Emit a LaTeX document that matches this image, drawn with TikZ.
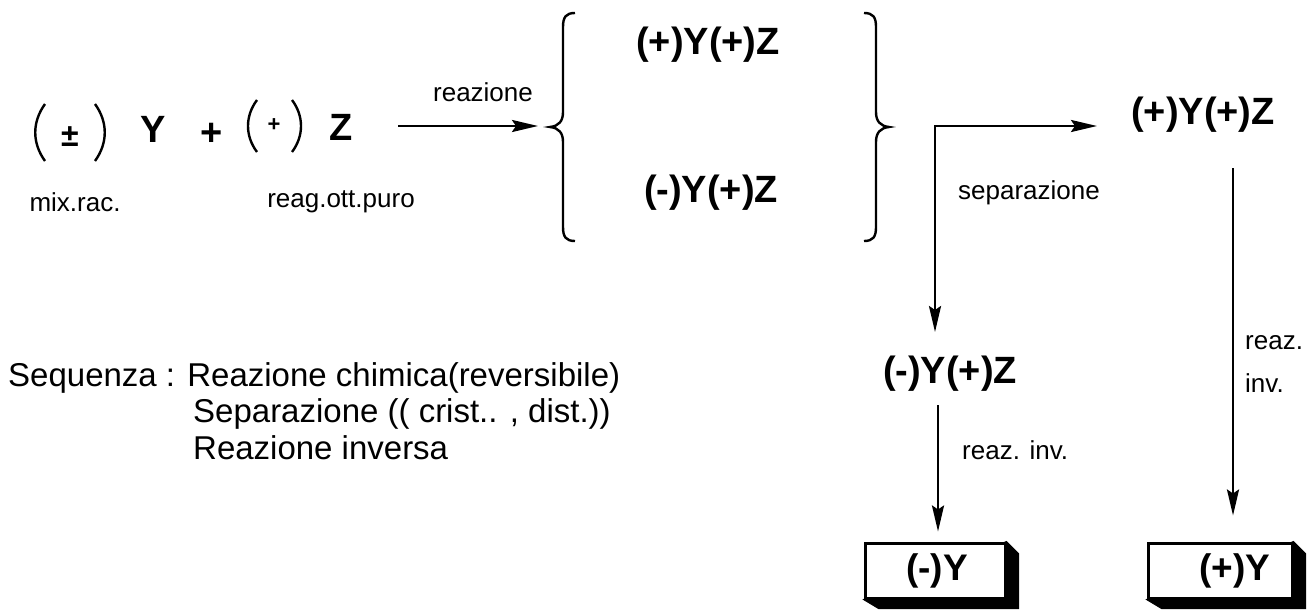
\documentclass[tikz,border=0pt]{standalone}
\usepackage{fontspec}
\setmainfont{Liberation Sans}
\usetikzlibrary{arrows.meta}
\begin{document}
\begin{tikzpicture}[x=1pt,y=-1pt,
  big/.style={font=\fontsize{38}{40}\selectfont\bfseries, inner sep=0pt, text height=28pt, text depth=7pt},
  lbl/.style={font=\fontsize{26}{30}\selectfont, inner sep=0pt},
  seqtext/.style={font=\fontsize{33}{37}\selectfont, inner sep=0pt, anchor=base west},
  conn/.style={line width=2.6pt},
  tip/.style={-{Stealth[length=26pt,width=12pt,inset=4pt]}},
  paren/.style={line width=2.4pt},
  resbox/.style={draw, line width=3pt, fill=white, minimum width=140pt, minimum height=55pt, inner sep=0pt, font=\fontsize{37}{40}\selectfont\bfseries},
  shadow/.style={fill=black, draw=black, line width=1pt, line join=miter}
]
\useasboundingbox (0,0) rectangle (1313,610);

% ---- left reactants ----
\draw[paren] (45,104) .. controls (32,122) and (32,143) .. (45,161);
\draw[paren] (95,104) .. controls (108,122) and (108,143) .. (95,161);
\node[font=\fontsize{32}{34}\selectfont\bfseries, inner sep=0pt] (pm) at (70,137) {±};
\node[font=\fontsize{38}{40}\selectfont\bfseries, inner sep=0pt, anchor=base] (Y) at (153,142) {Y};
\node[font=\fontsize{38}{40}\selectfont\bfseries, inner sep=0pt] (plus) at (212,134) {+};
\draw[paren] (257,100) .. controls (245,116) and (245,136) .. (257,152);
\draw[paren] (292,100) .. controls (304,116) and (304,136) .. (292,152);
\node[font=\fontsize{22}{24}\selectfont\bfseries, inner sep=0pt] (ps) at (274,125) {+};
\node[font=\fontsize{38}{40}\selectfont\bfseries, inner sep=0pt, anchor=base] (Z) at (341,140) {Z};

\node[lbl] (mix) at (75,202) {mix.rac.};
\node[lbl] (reag) at (341,202) {reag.ott.puro};

% ---- reaction arrow ----
\coordinate (a0) at (398,126);
\coordinate (lb) at (549,126);
\draw[conn,tip,shorten >=11pt] (a0) -- (lb);
\node[lbl] (reaz) at (483,92) {reazione};

% ---- braces ----
\draw[paren] (575,13) .. controls (566,13) and (563,17) .. (563,27) -- (563,112)
  .. controls (563,121) and (559,126) .. (550,127)
  .. controls (559,128) and (563,133) .. (563,142) -- (563,227)
  .. controls (563,237) and (566,241) .. (575,241);
\draw[paren] (864,13) .. controls (873,13) and (876,17) .. (876,27) -- (876,112)
  .. controls (876,121) and (880,126) .. (889,127)
  .. controls (880,128) and (876,133) .. (876,142) -- (876,227)
  .. controls (876,237) and (873,241) .. (864,241);

\node[big] (top) at (708,44) {(+)Y(+)Z};
\node[big] (bot) at (711,192) {(-)Y(+)Z};

% ---- separation ----
\coordinate (sep) at (935,126);
\node[big] (ryz) at (1203,114) {(+)Y(+)Z};
\node[big] (midz) at (950,373) {(-)Y(+)Z};
\coordinate (htip) at (1097,126);
\coordinate (vtip) at (935,332);
\draw[conn, {Stealth[length=26pt,width=12pt,inset=4pt]}-{Stealth[length=26pt,width=12pt,inset=4pt]}, line join=miter] (htip) -- (sep) -- (vtip);
\node[lbl, anchor=west] (sepl) at (958,193) {separazione};

% ---- result boxes ----
\node[resbox, minimum width=140pt] (mY) at (935,570.5) {\hspace*{4pt}(-)Y};
\node[resbox, minimum width=144pt] (rY) at (1220,570.5) {\hspace*{30pt}(+)Y};
\fill[shadow] (mY.north east) -- ++(12,12) -- ++(0,55) -- ++(-140,0) -- (mY.south west) -- cycle;
\fill[shadow] (rY.north east) -- ++(12,12) -- ++(0,55) -- ++(-144,0) -- (rY.south west) -- cycle;
\node[resbox, minimum width=140pt] at (mY) {\hspace*{4pt}(-)Y};
\node[resbox, minimum width=144pt] at (rY) {\hspace*{30pt}(+)Y};

% ---- inverse reactions ----
\coordinate (m1) at (938,405);
\draw[conn,tip,shorten >=10pt] (m1) -- (m1 |- mY.north);
\node[lbl, anchor=west] (ri1) at (962,450) {reaz. inv.};

\coordinate (r1) at (1233,168);
\draw[conn,tip,shorten >=26pt] (r1) -- (r1 |- rY.north);
\node[lbl, anchor=west] (ri2a) at (1245,343) {reaz.};
\node[lbl, anchor=west] (ri2b) at (1245,383) {inv.};

% ---- sequence text ----
\node[seqtext] (s1) at (8,386) {Sequenza : Reazione chimica(reversibile)};
\node[seqtext] (s2) at (193,422) {Separazione (( crist.. , dist.))};
\node[seqtext] (s3) at (193,459) {Reazione inversa};
\end{tikzpicture}
\end{document}
